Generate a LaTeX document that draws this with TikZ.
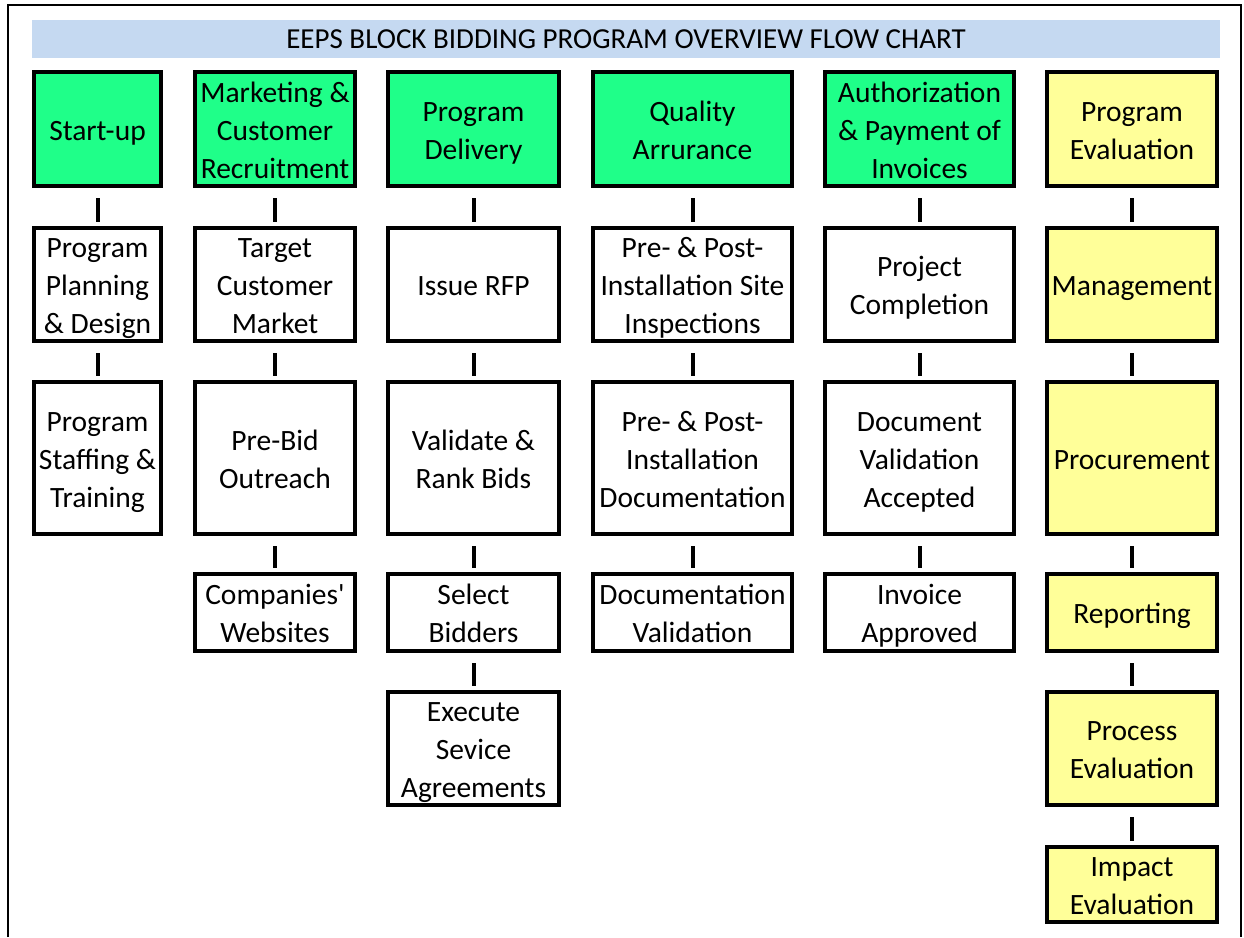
\documentclass[tikz,border=0pt]{standalone}
\usepackage{fontspec}
\setmainfont{Carlito}[Ligatures=TeXOff]
\definecolor{hdgreen}{RGB}{31,255,137}
\definecolor{evyellow}{RGB}{255,255,153}
\definecolor{titleblue}{RGB}{197,217,241}
\newcommand\lnstrut{\rule[-7pt]{0pt}{36pt}}
\tikzset{
  box/.style={draw=black, line width=4pt, inner sep=0pt, align=center,
    font=\fontsize{29.5}{38}\selectfont},
  headbox/.style={box, fill=hdgreen},
  evalbox/.style={box, fill=evyellow},
  stepbox/.style={box, fill=white},
  c1/.style={minimum width=127pt}, c2/.style={minimum width=160pt},
  c3/.style={minimum width=171pt}, c4/.style={minimum width=199pt},
  c5/.style={minimum width=189pt}, c6/.style={minimum width=170pt},
  r1/.style={minimum height=114pt}, r2/.style={minimum height=113pt},
  r3/.style={minimum height=152pt}, r4/.style={minimum height=77pt},
  r5/.style={minimum height=113pt}, r6/.style={minimum height=75pt},
  link/.style={line width=4pt, shorten <=10pt, shorten >=4pt}
}
\begin{document}
\begin{tikzpicture}[x=1pt,y=-1pt]
\useasboundingbox (0,0) rectangle (1244,937);
\draw[line width=2pt] (8,937) -- (8,5) -- (1241,5) -- (1241,937);
\node[fill=titleblue, minimum width=1188pt, minimum height=38pt, inner sep=0pt,
  font=\fontsize{29}{30}\selectfont] (title) at (626,39)
  {EEPS BLOCK BIDDING PROGRAM OVERVIEW FLOW CHART};
% column 1
\node[headbox,c1,r1] (a1) at (97.5,129) {\lnstrut Start-up};
\node[stepbox,c1,r2] (a2) at (97.5,284.5) {\lnstrut Program\\\lnstrut Planning\\\lnstrut \& Design};
\node[stepbox,c1,r3] (a3) at (97.5,458) {\lnstrut Program\\\lnstrut Staffing \&\\\lnstrut Training};
% column 2
\node[headbox,c2,r1] (b1) at (275,129) {\lnstrut Marketing \&\\\lnstrut Customer\\\lnstrut Recruitment};
\node[stepbox,c2,r2] (b2) at (275,284.5) {\lnstrut Target\\\lnstrut Customer\\\lnstrut Market};
\node[stepbox,c2,r3] (b3) at (275,458) {\lnstrut Pre-Bid\\\lnstrut Outreach};
\node[stepbox,c2,r4] (b4) at (275,612.5) {\lnstrut Companies'\\\lnstrut Websites};
% column 3
\node[headbox,c3,r1] (d1) at (473.5,129) {\lnstrut Program\\\lnstrut Delivery};
\node[stepbox,c3,r2] (d2) at (473.5,284.5) {\lnstrut Issue RFP};
\node[stepbox,c3,r3] (d3) at (473.5,458) {\lnstrut Validate \&\\\lnstrut Rank Bids};
\node[stepbox,c3,r4] (d4) at (473.5,612.5) {\lnstrut Select\\\lnstrut Bidders};
\node[stepbox,c3,r5] (d5) at (473.5,748.5) {\lnstrut Execute\\\lnstrut Sevice\\\lnstrut Agreements};
% column 4
\node[headbox,c4,r1] (e1) at (692.5,129) {\lnstrut Quality\\\lnstrut Arrurance};
\node[stepbox,c4,r2] (e2) at (692.5,284.5) {\lnstrut Pre- \& Post-\\\lnstrut Installation Site\\\lnstrut Inspections};
\node[stepbox,c4,r3] (e3) at (692.5,458) {\lnstrut Pre- \& Post-\\\lnstrut Installation\\\lnstrut Documentation};
\node[stepbox,c4,r4] (e4) at (692.5,612.5) {\lnstrut Documentation\\\lnstrut Validation};
% column 5
\node[headbox,c5,r1] (f1) at (919.5,129) {\lnstrut Authorization\\\lnstrut \& Payment of\\\lnstrut Invoices};
\node[stepbox,c5,r2] (f2) at (919.5,284.5) {\lnstrut Project\\\lnstrut Completion};
\node[stepbox,c5,r3] (f3) at (919.5,458) {\lnstrut Document\\\lnstrut Validation\\\lnstrut Accepted};
\node[stepbox,c5,r4] (f4) at (919.5,612.5) {\lnstrut Invoice\\\lnstrut Approved};
% column 6
\node[evalbox,c6,r1] (g1) at (1132,129) {\lnstrut Program\\\lnstrut Evaluation};
\node[evalbox,c6,r2] (g2) at (1132,284.5) {\lnstrut Management};
\node[evalbox,c6,r3] (g3) at (1132,458) {\lnstrut Procurement};
\node[evalbox,c6,r4] (g4) at (1132,612.5) {\lnstrut Reporting};
\node[evalbox,c6,r5] (g5) at (1132,748.5) {\lnstrut Process\\\lnstrut Evaluation};
\node[evalbox,c6,r6] (g6) at (1132,884.5) {\lnstrut Impact\\\lnstrut Evaluation};
% connectors
\foreach \u/\v in {a1/a2,a2/a3,b1/b2,b2/b3,b3/b4,d1/d2,d2/d3,d3/d4,d4/d5,
  e1/e2,e2/e3,e3/e4,f1/f2,f2/f3,f3/f4,g1/g2,g2/g3,g3/g4,g4/g5,g5/g6}
  \draw[link] (\u.south) -- (\v.north);
\end{tikzpicture}
\end{document}
